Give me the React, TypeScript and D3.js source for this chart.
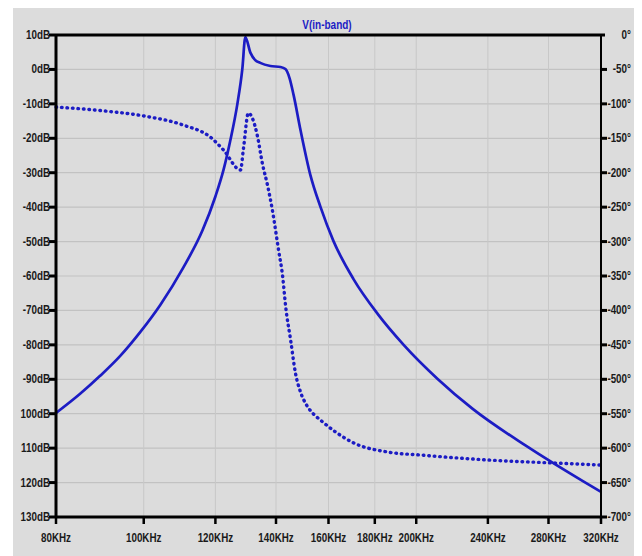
import React from 'react';
import * as d3 from 'd3';

// magnitude trace, V(in-band)  (KHz, dB)
const magFreq = [80, 85.0, 89.5, 94.2, 99.1, 104.3, 110.5, 116.1, 120.0, 122.5, 124.6, 126.9, 128.5, 129.5, 131.2, 132.8, 134.5, 138.0, 141.6, 143.4, 144.9, 146.4, 149.0, 152.8, 156.8, 162.0, 170.5, 181.3, 193.7, 211.2, 230.9, 264.3, 305.6, 320];
const magDb = [-99.8, -94.3, -89.0, -83.2, -76.3, -68.4, -57.7, -46.8, -36.9, -29.2, -20.8, -10.0, 0.1, 9.4, 4.8, 2.7, 1.9, 1.0, 0.7, 0.1, -2.5, -7.4, -17.6, -30.7, -40.0, -49.8, -60.9, -71.0, -80.0, -89.9, -98.6, -109.3, -119.6, -122.7];

// phase trace (dotted), degrees
const phaseFreq = [80, 90, 100, 110.5, 118.4, 122.5, 127.9, 128.9, 130.5, 131.8, 133.6, 135.2, 137.0, 138.7, 140.9, 142.4, 143.5, 145.3, 147.1, 149.0, 151.3, 154.0, 156.7, 162.9, 170.6, 185.9, 202.2, 239.9, 284, 320];
const phaseDeg = [-104.6, -110, -117.6, -130.7, -148.1, -167, -196, -164, -113.3, -120.5, -148, -186, -218, -254, -312, -351, -395, -443, -491, -518.4, -537.3, -550.4, -559.1, -576.5, -592.5, -605.6, -610, -617.2, -621.6, -624.5];

const freqTicks = [80, 100, 120, 140, 160, 180, 200, 240, 280, 320];
const dbTicks = [10, 0, -10, -20, -30, -40, -50, -60, -70, -80, -90, -100, -110, -120, -130];
const degTicks = [0, -50, -100, -150, -200, -250, -300, -350, -400, -450, -500, -550, -600, -650, -700];

const W = 642;
const H = 556;
const margin = { top: 35, right: 41, bottom: 39, left: 56 };
const blue = '#1c1cc4';
const font = "'Liberation Sans', Arial, sans-serif";

// LTspice-ish condensed label
const Label = ({ x, y, anchor, text, size = 12, sx = 0.82, fill = '#1a1a1a' }: any) => (
  <text transform={`translate(${x},${y}) scale(${sx},1)`} textAnchor={anchor}
    fontFamily={font} fontWeight="bold" fontSize={size} fill={fill}>{text}</text>
);

const App = () => {
  const x = d3.scaleLog().domain([80, 320]).range([margin.left, W - margin.right]);
  const yDb = d3.scaleLinear().domain([-130, 10]).range([H - margin.bottom, margin.top]);
  const yDeg = d3.scaleLinear().domain([-700, 0]).range([H - margin.bottom, margin.top]);

  const magLine = d3.line<number>()
    .x((d, i) => x(magFreq[i]))
    .y(d => yDb(d))
    .curve(d3.curveMonotoneX);

  const phaseLine = d3.line<number>()
    .x((d, i) => x(phaseFreq[i]))
    .y(d => yDeg(d))
    .curve(d3.curveMonotoneX);

  const x0 = margin.left;
  const x1 = W - margin.right;
  const y0 = margin.top;
  const y1 = H - margin.bottom;

  const dbLabel = (v: number) => (v <= -100 ? `${-v}dB` : `${v}dB`);

  return (
    <svg width={W} height={H} style={{ position: 'absolute', left: 0, top: 0 }}>
      <rect x={0} y={0} width={W} height={H} fill="#fff" />
      <rect x={13} y={8} width={621} height={548} fill="#dcdcdc" />

      {/* grid */}
      {dbTicks.map(t => (
        <line key={'h' + t} x1={x0} x2={x1} y1={yDb(t)} y2={yDb(t)} stroke="#c2c2c2" strokeWidth={1.2} />
      ))}
      {freqTicks.map(t => (
        <line key={'v' + t} x1={x(t)} x2={x(t)} y1={y0} y2={y1} stroke="#c8c8c8" strokeWidth={1} />
      ))}

      <Label x={327} y={29} anchor="middle" text="V(in-band)" size={12.5} sx={0.8} fill={blue} />

      {/* traces */}
      <path d={phaseLine(phaseDeg) || ''} fill="none" stroke={blue} strokeWidth={3.4}
        strokeDasharray="0.6 4.9" strokeLinecap="round" />
      <path d={magLine(magDb) || ''} fill="none" stroke={blue} strokeWidth={2.7} />

      {/* frame */}
      <line x1={x0} x2={x1 + 4} y1={y0} y2={y0} stroke="#000" strokeWidth={3} />
      <line x1={x0} x2={x1} y1={y1} y2={y1} stroke="#000" strokeWidth={3} />
      <line x1={x0} x2={x0} y1={y0} y2={y1 + 1} stroke="#000" strokeWidth={3} />
      <line x1={x1} x2={x1} y1={y0} y2={y1 + 1} stroke="#000" strokeWidth={2} />

      {/* left axis */}
      {dbTicks.map(t => (
        <g key={'l' + t}>
          <line x1={x0 - 7} x2={x0} y1={yDb(t)} y2={yDb(t)} stroke="#000" strokeWidth={3} />
          <Label x={x0 - 6} y={yDb(t) + 4} anchor="end" text={dbLabel(t)} />
        </g>
      ))}

      {/* right axis */}
      {degTicks.map(t => (
        <g key={'r' + t}>
          {t !== 0 && <line x1={x1} x2={x1 + 6} y1={yDeg(t)} y2={yDeg(t)} stroke="#000" strokeWidth={3} />}
          <Label x={631} y={yDeg(t) + 4} anchor="end" text={`${t}°`} />
        </g>
      ))}

      {/* bottom axis */}
      {freqTicks.map(t => (
        <g key={'b' + t}>
          <line x1={x(t)} x2={x(t)} y1={y1} y2={y1 + 7} stroke="#000" strokeWidth={2.5} />
          <Label x={x(t)} y={542} anchor="middle" text={`${t}KHz`} />
        </g>
      ))}
    </svg>
  );
};

export default App;
